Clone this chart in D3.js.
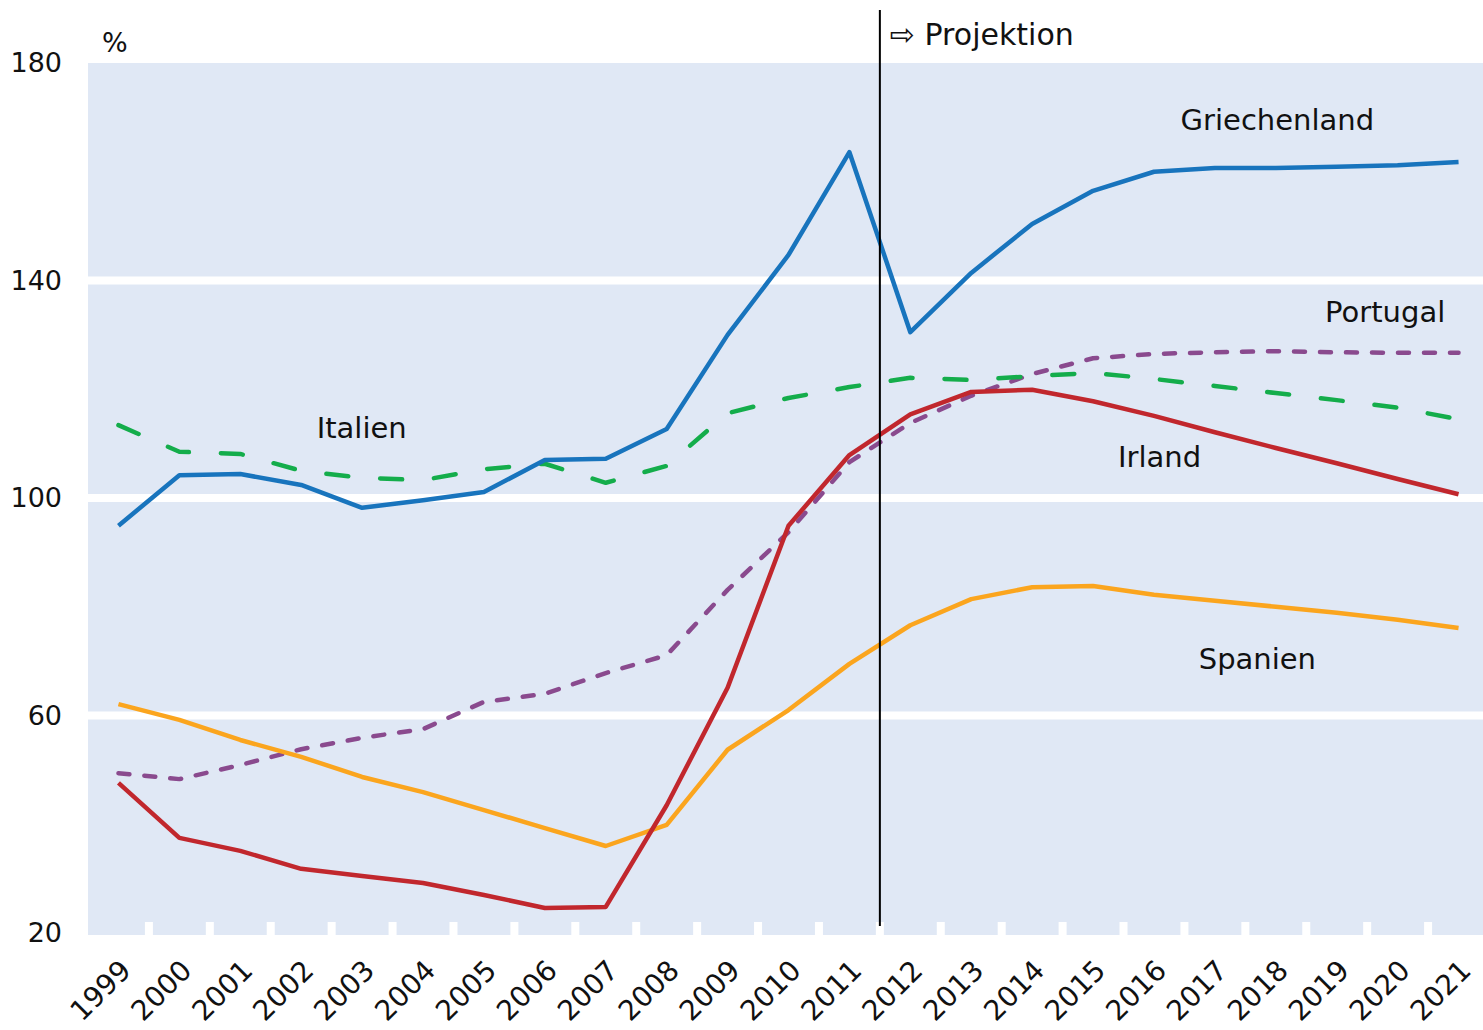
<!DOCTYPE html>
<html>
<head>
<meta charset="utf-8">
<script src="https://cdnjs.cloudflare.com/ajax/libs/d3/7.8.5/d3.min.js"></script>
<style>
  body { margin: 0; background: #fff; }
  text { font-family: 'DejaVu Sans', sans-serif; fill: #111; }
</style>
</head>
<body>
<div id="graph"></div>
<script>
// Staatsschuldenquoten in % des BIP, ab 2012 Projektion
const years = ['1999', '2000', '2001', '2002', '2003', '2004', '2005', '2006', '2007', '2008', '2009',
  '2010', '2011', '2012', '2013', '2014', '2015', '2016', '2017', '2018', '2019', '2020', '2021']

const griechenland = [94.9, 104.2, 104.4, 102.4, 98.2, 99.6, 101.1, 107.0, 107.2, 112.7, 130.0,
  144.7, 163.6, 130.5, 141.4, 150.4, 156.5, 160.0, 160.7, 160.7, 160.9, 161.2, 161.8]
const italien = [113.4, 108.5, 108.1, 105.0, 103.7, 103.3, 105.3, 106.3, 102.8, 105.9, 115.6,
  118.4, 120.4, 122.1, 121.7, 122.4, 123.0, 121.9, 120.6, 119.3, 118.0, 116.6, 114.5]
const portugal = [49.4, 48.3, 50.9, 53.8, 55.9, 57.5, 62.5, 64.0, 67.8, 71.1, 83.1,
  93.7, 106.6, 113.8, 118.8, 122.8, 125.7, 126.5, 126.8, 127.0, 126.8, 126.7, 126.7]
const irland = [47.6, 37.5, 35.1, 31.8, 30.5, 29.2, 27.0, 24.6, 24.8, 43.5, 65.1,
  94.9, 107.9, 115.4, 119.5, 119.9, 117.8, 115.1, 112.1, 109.2, 106.4, 103.5, 100.7]
const spanien = [62.1, 59.2, 55.5, 52.4, 48.7, 45.9, 42.6, 39.3, 36.0, 39.9, 53.7,
  61.0, 69.5, 76.6, 81.4, 83.6, 83.8, 82.2, 81.1, 80.0, 78.9, 77.6, 76.1]

const yTicks = [20, 60, 100, 140, 180]
const projectionStart = '2012'

const total_width = 1483
const total_height = 1030

svg = d3.select('#graph').append('svg')
  .attr('width', total_width)
  .attr('height', total_height)

x = d3.scaleBand().domain(years).range([88, 1489])
y = d3.scaleLinear().domain([20, 180]).range([933, 63])

// plot background
svg.append('rect')
  .attr('x', x.range()[0])
  .attr('y', y(180))
  .attr('width', total_width - x.range()[0])
  .attr('height', y(20) - y(180) + 2)
  .attr('fill', '#e0e8f5')

// white grid lines
svg.append('g')
  .selectAll('line')
  .data(yTicks.filter(d => d > 20 && d < 180))
  .enter()
  .append('line')
  .attr('x1', x.range()[0])
  .attr('x2', total_width)
  .attr('y1', d => y(d))
  .attr('y2', d => y(d))
  .attr('stroke', '#fff')
  .attr('stroke-width', 8)

// white tick marks at the bottom between the years
svg.append('g')
  .selectAll('line')
  .data(years)
  .enter()
  .append('line')
  .attr('x1', d => x(d) + x.bandwidth())
  .attr('x2', d => x(d) + x.bandwidth())
  .attr('y1', y(20) - 11)
  .attr('y2', y(20) + 3)
  .attr('stroke', '#fff')
  .attr('stroke-width', 8)

// y axis labels
yAxis = svg.append('g')
  .attr('transform', `translate(62, 0)`)
  .call(d3.axisLeft(y).tickValues(yTicks).tickSize(0).tickPadding(0))
yAxis.select('.domain').remove()
yAxis.selectAll('text')
  .style('font-size', '27px')
  .style('font-family', "'DejaVu Sans', sans-serif")
  .attr('fill', '#111')

svg.append('text')
  .attr('x', 102)
  .attr('y', 52)
  .style('font-size', '27px')
  .text('%')

// x axis labels, rotated
xAxis = svg.append('g')
  .attr('transform', `translate(0, ${y(20)})`)
  .call(d3.axisBottom(x).tickSize(0))
xAxis.select('.domain').remove()
xAxis.selectAll('text')
  .style('font-size', '28px')
  .style('font-family', "'DejaVu Sans', sans-serif")
  .attr('fill', '#111')
  .attr('text-anchor', 'end')
  .attr('dy', '0.35em')
  .attr('transform', 'translate(5, 30) rotate(-45)')

let line = d3.line()
  .x((d, i) => x(years[i]) + x.bandwidth() / 2)
  .y(d => y(d))

let series = [
  { name: 'Portugal', values: portugal, color: '#8a4a8e', dash: '11,15' },
  { name: 'Italien', values: italien, color: '#14ad4b', dash: '22,32' },
  { name: 'Spanien', values: spanien, color: '#fba51e', dash: null },
  { name: 'Irland', values: irland, color: '#c1272d', dash: null },
  { name: 'Griechenland', values: griechenland, color: '#1874bd', dash: null }
]

series.forEach(s => {
  svg.append('path')
    .datum(s.values)
    .attr('fill', 'none')
    .attr('stroke', s.color)
    .attr('stroke-width', 4.5)
    .attr('stroke-linejoin', 'round')
    .attr('stroke-linecap', s.dash ? 'round' : 'butt')
    .attr('stroke-dasharray', s.dash)
    .attr('d', line)
})

// series names
let labels = [
  { text: 'Italien', year: '2003', value: 112.9, dx: 30 },
  { text: 'Griechenland', year: '2018', value: 169.5, dx: 32 },
  { text: 'Portugal', year: '2020', value: 134.2, dx: 18 },
  { text: 'Irland', year: '2016', value: 107.5, dx: 36 },
  { text: 'Spanien', year: '2018', value: 70.4, dx: 12 }
]
svg.append('g')
  .selectAll('text')
  .data(labels)
  .enter()
  .append('text')
  .attr('x', d => x(d.year) + d.dx)
  .attr('y', d => y(d.value))
  .attr('text-anchor', 'middle')
  .attr('dy', '0.35em')
  .style('font-size', '29px')
  .text(d => d.text)

// projection line
let px = x(projectionStart)
svg.append('line')
  .attr('x1', px)
  .attr('x2', px)
  .attr('y1', 10)
  .attr('y2', 926)
  .attr('stroke', '#000')
  .attr('stroke-width', 2)

svg.append('text')
  .attr('x', px + 10)
  .attr('y', 34)
  .attr('dy', '0.35em')
  .style('font-size', '30px')
  .text('\u21E8 Projektion')
</script>
</body>
</html>
